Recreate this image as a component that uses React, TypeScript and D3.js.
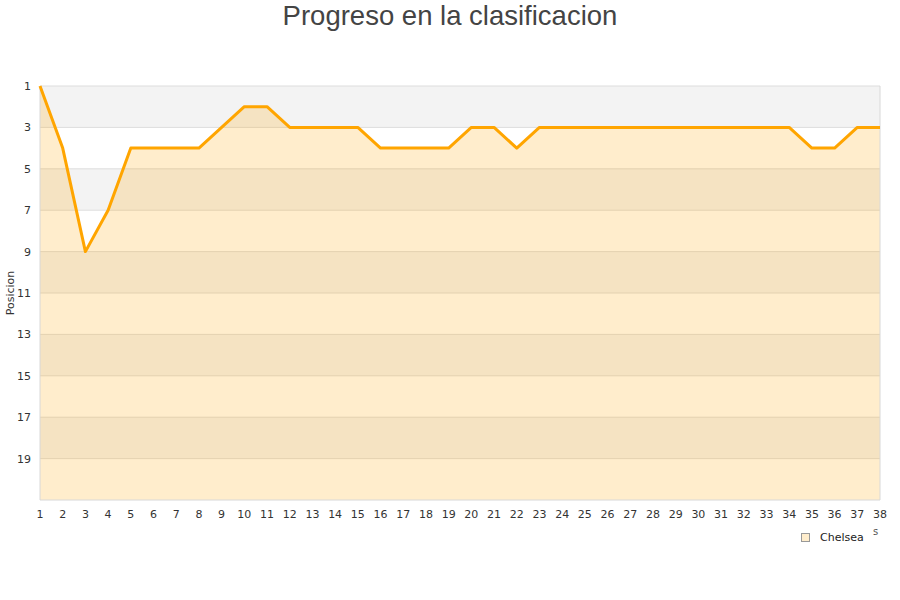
import React from "react";
import * as d3 from "d3";

const rounds: number[] = Array.from({ length: 38 }, (_, i) => i + 1);
const positions: number[] = [1, 4, 9, 7, 4, 4, 4, 4, 3, 2, 2, 3, 3, 3, 3, 4, 4, 4, 4, 3, 3, 4, 3, 3, 3, 3, 3, 3, 3, 3, 3, 3, 3, 3, 4, 4, 3, 3];
const yTicks: number[] = [1, 3, 5, 7, 9, 11, 13, 15, 17, 19];
const bandStarts: number[] = [1, 5, 9, 13, 17];
const teamName = "Chelsea";
const title = "Progreso en la clasificacion";
const yLabel = "Posicion";

export default function App() {
  const W = 900, H = 600;
  const left = 40, right = 880, top = 86, bottom = 500;
  const x = d3.scaleLinear().domain([1, 38]).range([left, right]);
  const y = d3.scaleLinear().domain([1, 21]).range([top, bottom]);
  const pts: [number, number][] = rounds.map((r, i) => [r, positions[i]]);
  const line = d3.line<[number, number]>().x(d => x(d[0])).y(d => y(d[1]));
  const area = d3.area<[number, number]>().x(d => x(d[0])).y0(y(21)).y1(d => y(d[1]));
  const font = "'DejaVu Sans', Verdana, sans-serif";
  return (
    <svg width={W} height={H} style={{ position: "absolute", left: 0, top: 0, background: "#fff" }}>
      <text x={450} y={25} textAnchor="middle" fontFamily="'Liberation Sans', Arial, sans-serif" fontSize={27.5} fill="#444">{title}</text>
      {bandStarts.map(b => (
        <rect key={b} x={left} y={y(b)} width={right - left} height={y(b + 2) - y(b)} fill="#f3f3f3" />
      ))}
      {yTicks.map(t => (
        <line key={t} x1={left} x2={right} y1={y(t)} y2={y(t)} stroke="#dddddd" strokeWidth={1} />
      ))}
      <path d={area(pts) || ""} fill="rgba(255,165,0,0.2)" />
      <line x1={left} x2={left} y1={top} y2={bottom} stroke="#d8d8d8" />
      <line x1={right} x2={right} y1={top} y2={bottom} stroke="#d8d8d8" />
      <line x1={left} x2={right} y1={bottom} y2={bottom} stroke="#d8d8d8" />
      <path d={line(pts) || ""} fill="none" stroke="#ffa500" strokeWidth={3} strokeLinejoin="round" />
      {yTicks.map(t => (
        <text key={t} x={31} y={y(t) + 4} textAnchor="end" fontFamily={font} fontSize={11} fill="#333">{t}</text>
      ))}
      {rounds.map(r => (
        <text key={r} x={x(r)} y={518} textAnchor="middle" fontFamily={font} fontSize={11} fill="#333">{r}</text>
      ))}
      <text transform={`translate(14,293) rotate(-90)`} textAnchor="middle" fontFamily={font} fontSize={11} fill="#333">{yLabel}</text>
      <rect x={801.5} y={533.5} width={8} height={8} fill="#ffedcc" stroke="#999" strokeWidth={1} />
      <text x={820} y={541} fontFamily={font} fontSize={11} fill="#222">{teamName}</text>
      <text x={873} y={535} fontFamily={font} fontSize={10} fill="#555">s</text>
    </svg>
  );
}
